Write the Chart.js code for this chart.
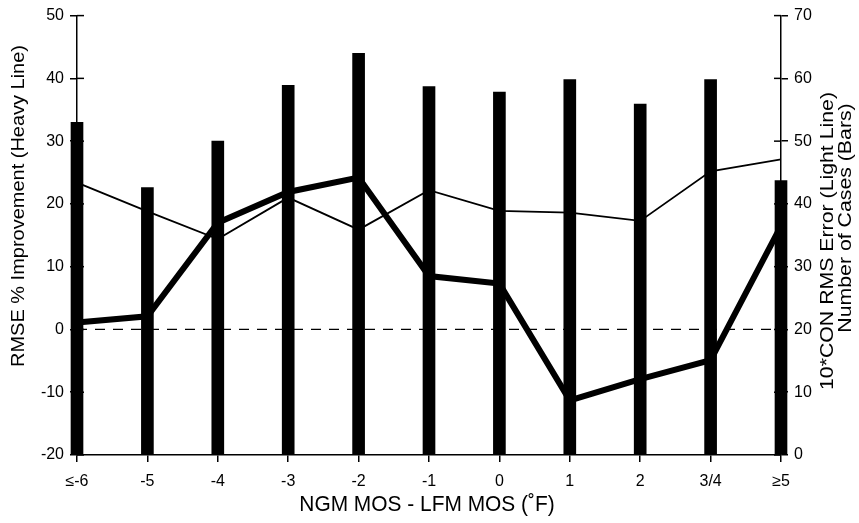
<!DOCTYPE html>
<html>
<head>
<meta charset="utf-8">
<script src="https://cdn.jsdelivr.net/npm/chart.js@4/dist/chart.umd.min.js"></script>
<style>
  html, body { margin: 0; padding: 0; background: #fff; }
  #wrap { width: 859px; height: 523px; position: relative; }
</style>
</head>
<body>
<div id="wrap"><canvas id="chart"></canvas></div>
<script>
// categories (NGM MOS - LFM MOS, deg F)
const categories = ['≤-6', '-5', '-4', '-3', '-2', '-1', '0', '1', '2', '3/4', '≥5'];
// heavy line, left axis
const rmseImprovement = [1.1, 2.1, 17.0, 21.9, 24.2, 8.5, 7.3, -11.3, -7.9, -4.9, 16.5];
// light line, right axis
const conRmsError = [43.4, 38.8, 34.4, 41.0, 35.9, 42.2, 38.9, 38.6, 37.3, 45.2, 47.1];
// bars, right axis
const caseCounts = [53.0, 42.6, 50.0, 58.9, 64.0, 58.7, 57.8, 59.8, 55.9, 59.8, 43.7];
// dashed reference at 0 %
const zeroRef = [0, 0, 0, 0, 0, 0, 0, 0, 0, 0, 0];

const FONT = '"Liberation Sans", Arial, Helvetica, sans-serif';

// inner tick marks + axis titles
const axisDecor = {
  id: 'axisDecor',
  afterDraw(chart) {
    const { ctx, chartArea, scales } = chart;
    ctx.save();
    ctx.strokeStyle = '#000';
    ctx.lineWidth = 1.5;
    scales.y.ticks.forEach(t => {
      const py = scales.y.getPixelForValue(t.value);
      ctx.beginPath();
      ctx.moveTo(chartArea.left, py);
      ctx.lineTo(chartArea.left + 7, py);
      ctx.stroke();
    });
    scales.y1.ticks.forEach(t => {
      const py = scales.y1.getPixelForValue(t.value);
      ctx.beginPath();
      ctx.moveTo(chartArea.right - 7, py);
      ctx.lineTo(chartArea.right, py);
      ctx.stroke();
    });

    ctx.fillStyle = '#000';
    ctx.textAlign = 'center';
    ctx.textBaseline = 'middle';
    // rotated text, stretched along its length
    const vText = (text, x, y, stretch) => {
      ctx.save();
      ctx.translate(x, y);
      ctx.rotate(-Math.PI / 2);
      ctx.scale(stretch, 1);
      ctx.fillText(text, 0, 0);
      ctx.restore();
    };
    ctx.font = '18px ' + FONT;
    vText('RMSE % Improvement (Heavy Line)', 19, 206, 1.11);
    ctx.font = '19px ' + FONT;
    vText('10*CON RMS Error (Light Line)', 828, 241, 1.12);
    vText('Number of Cases (Bars)', 846, 218, 1.12);

    ctx.save();
    ctx.font = '22px ' + FONT;
    ctx.translate(427, 505);
    ctx.scale(0.95, 1);
    ctx.fillText('NGM MOS - LFM MOS (˚F)', 0, 0);
    ctx.restore();
    ctx.restore();
  }
};

const ctx = document.getElementById('chart');
new Chart(ctx, {
  type: 'bar',
  data: {
    labels: categories,
    datasets: [
      {
        type: 'line',
        label: 'zero',
        data: zeroRef,
        yAxisID: 'y',
        borderColor: '#000',
        borderWidth: 1.3,
        borderDash: [10, 8],
        pointRadius: 0,
        order: 4
      },
      {
        type: 'bar',
        label: 'Number of Cases',
        data: caseCounts,
        yAxisID: 'y1',
        backgroundColor: '#000',
        barThickness: 12,
        clip: false,
        order: 3
      },
      {
        type: 'line',
        label: '10*CON RMS Error',
        data: conRmsError,
        yAxisID: 'y1',
        borderColor: '#000',
        borderWidth: 1.8,
        pointRadius: 0,
        tension: 0,
        order: 2
      },
      {
        type: 'line',
        label: 'RMSE % Improvement',
        data: rmseImprovement,
        yAxisID: 'y',
        borderColor: '#000',
        borderWidth: 6,
        borderJoinStyle: 'miter',
        pointRadius: 0,
        tension: 0,
        clip: false,
        order: 1
      }
    ]
  },
  options: {
    responsive: true,
    maintainAspectRatio: false,
    animation: false,
    devicePixelRatio: 1,
    layout: { padding: { top: 13, left: 0, right: 0, bottom: 0 } },
    plugins: {
      legend: { display: false },
      tooltip: { enabled: false }
    },
    scales: {
      x: {
        offset: false,
        grid: { display: true, offset: false, drawOnChartArea: false, color: '#000', lineWidth: 1.5, tickLength: 7 },
        border: { display: true, color: '#000', width: 1.5 },
        ticks: { color: '#000', font: { family: FONT, size: 16 }, padding: 10, maxRotation: 0, autoSkip: false },
        afterFit: s => { s.height = 68; }
      },
      y: {
        position: 'left',
        min: -20,
        max: 50,
        grid: { display: true, drawOnChartArea: false, color: '#000', lineWidth: 1.5, tickLength: 7 },
        border: { display: true, color: '#000', width: 1.5 },
        ticks: { stepSize: 10, color: '#000', font: { family: FONT, size: 16 }, padding: 6 },
        afterFit: s => { s.width = 77; }
      },
      y1: {
        position: 'right',
        min: 0,
        max: 70,
        grid: { display: true, drawOnChartArea: false, color: '#000', lineWidth: 1.5, tickLength: 7 },
        border: { display: true, color: '#000', width: 1.5 },
        ticks: { stepSize: 10, color: '#000', font: { family: FONT, size: 16 }, padding: 6 },
        afterFit: s => { s.width = 78; }
      }
    }
  },
  plugins: [axisDecor]
});
</script>
</body>
</html>
